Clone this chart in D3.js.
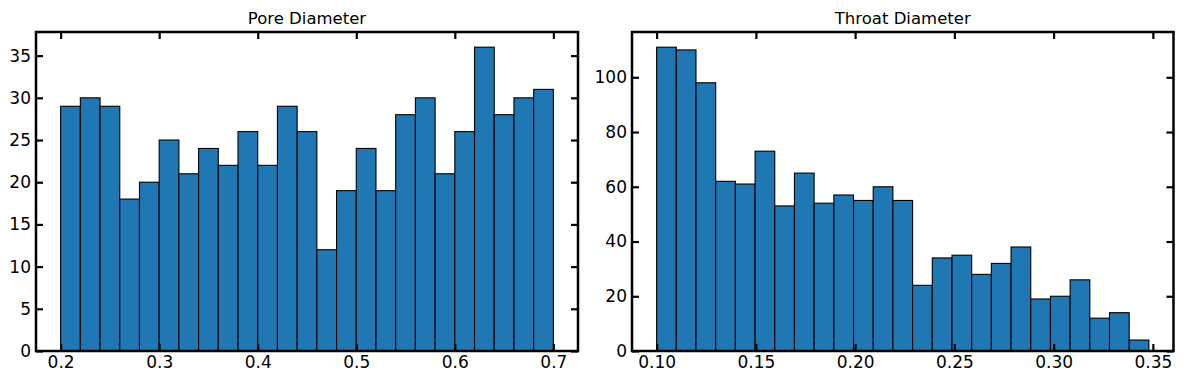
<!DOCTYPE html>
<html>
<head>
<meta charset="utf-8">
<script src="https://cdn.jsdelivr.net/npm/d3@7"></script>
<style>
  html, body { margin: 0; padding: 0; background: #fff; }
  svg { display: block; }
  text { font-family: "DejaVu Sans", sans-serif; fill: #000; }
</style>
</head>
<body>
<svg id="chart" width="1184" height="384"></svg>
<script>
// ---- data ----
const poreTitle = "Pore Diameter";
const poreRange = [0.2, 0.7];
const poreCounts = [29, 30, 29, 18, 20, 25, 21, 24, 22, 26, 22, 29, 26, 12, 19, 24, 19, 28, 30, 21, 26, 36, 28, 30, 31];
const poreXTicks = [0.2, 0.3, 0.4, 0.5, 0.6, 0.7];
const poreYTicks = [0, 5, 10, 15, 20, 25, 30, 35];

const throatTitle = "Throat Diameter";
const throatRange = [0.1, 0.348];
const throatCounts = [111, 110, 98, 62, 61, 73, 53, 65, 54, 57, 55, 60, 55, 24, 34, 35, 28, 32, 38, 19, 20, 26, 12, 14, 4];
const throatXTicks = [0.10, 0.15, 0.20, 0.25, 0.30, 0.35];
const throatYTicks = [0, 20, 40, 60, 80, 100];

const svg = d3.select("#chart");

function panel(cfg) {
  const { left, right, top, bottom, title, range, counts, xTicks, yTicks, xFmt } = cfg;
  const n = counts.length;
  const w = (range[1] - range[0]) / n;
  const bins = counts.map((c, i) => ({ lo: range[0] + i * w, hi: range[0] + (i + 1) * w, c }));
  const span = range[1] - range[0];
  const x = d3.scaleLinear().domain([range[0] - 0.05 * span, range[1] + 0.05 * span]).range([left, right]);
  const ymax = d3.max(counts);
  const y = d3.scaleLinear().domain([0, ymax * 1.05]).range([bottom, top]);

  const g = svg.append("g");

  g.selectAll("rect.bar").data(bins).enter().append("rect")
    .attr("class", "bar")
    .attr("x", d => x(d.lo))
    .attr("width", d => x(d.hi) - x(d.lo))
    .attr("y", d => y(d.c))
    .attr("height", d => y(0) - y(d.c))
    .attr("fill", "#1f77b4")
    .attr("stroke", "#000")
    .attr("stroke-width", 1.1);

  const tickLen = 7;
  const styleAxis = sel => {
    sel.attr("font-size", null).attr("font-family", null);
    sel.select(".domain").remove();
    sel.selectAll(".tick line").attr("stroke", "#000").attr("stroke-width", 2.2);
    sel.selectAll(".tick text").style("font-size", "17px").style("font-family", "DejaVu Sans, sans-serif");
  };

  g.append("g").attr("transform", `translate(0,${bottom})`)
    .call(d3.axisBottom(x).tickValues(xTicks).tickFormat(xFmt).tickSizeInner(-tickLen).tickSizeOuter(0).tickPadding(5))
    .call(styleAxis);
  g.append("g").attr("transform", `translate(0,${top})`)
    .call(d3.axisTop(x).tickValues(xTicks).tickFormat("").tickSizeInner(-tickLen).tickSizeOuter(0))
    .call(styleAxis);
  g.append("g").attr("transform", `translate(${left},0)`)
    .call(d3.axisLeft(y).tickValues(yTicks).tickFormat(d3.format("d")).tickSizeInner(-tickLen).tickSizeOuter(0).tickPadding(5))
    .call(styleAxis);
  g.append("g").attr("transform", `translate(${right},0)`)
    .call(d3.axisRight(y).tickValues(yTicks).tickFormat("").tickSizeInner(-tickLen).tickSizeOuter(0))
    .call(styleAxis);

  g.append("rect")
    .attr("x", left).attr("y", top)
    .attr("width", right - left).attr("height", bottom - top)
    .attr("fill", "none").attr("stroke", "#000").attr("stroke-width", 2.5);

  g.append("text")
    .attr("x", (left + right) / 2).attr("y", top - 8)
    .attr("text-anchor", "middle")
    .style("font-size", "16.5px")
    .text(title);
}

panel({ left: 36, right: 578, top: 32, bottom: 351, title: poreTitle, range: poreRange, counts: poreCounts,
        xTicks: poreXTicks, yTicks: poreYTicks, xFmt: d3.format(".1f") });
panel({ left: 632, right: 1173.5, top: 32, bottom: 351, title: throatTitle, range: throatRange, counts: throatCounts,
        xTicks: throatXTicks, yTicks: throatYTicks, xFmt: d3.format(".2f") });
</script>
</body>
</html>
